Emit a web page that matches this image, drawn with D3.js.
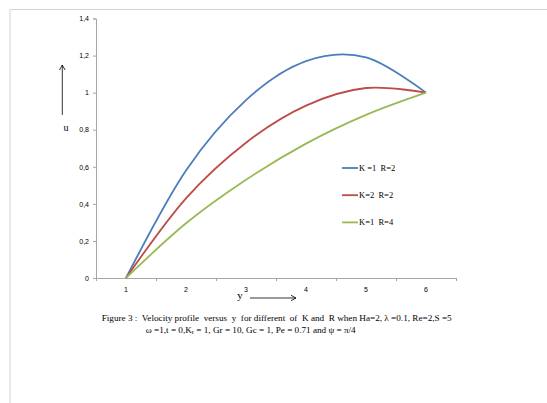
<!DOCTYPE html>
<html>
<head>
<meta charset="utf-8">
<script src="https://cdn.jsdelivr.net/npm/d3@7"></script>
<style>
  body { margin: 0; background: #fff; }
  text { fill: #000; white-space: pre; }
</style>
</head>
<body>
<div id="vis"></div>
<script>
const WIDTH = 547;
const HEIGHT = 403;

// datos
const yPos = [1, 2, 3, 4, 5, 6];
const uK1R2 = [0, 0.58, 0.96, 1.17, 1.19, 1.0];
const uK2R2 = [0, 0.43, 0.73, 0.93, 1.025, 1.0];
const uK1R4 = [0, 0.295, 0.53, 0.725, 0.88, 1.0];
const seriesNames = ["K =1  R=2", "K=2  R=2", "K=1  R=4"];
const colores = ["#4a7ebb", "#be4b48", "#98b954"];
const yTicks = [0, 0.2, 0.4, 0.6, 0.8, 1, 1.2, 1.4];

const margins = [96, 91, 18.5, 125]; // izquierda, derecha, arriba, abajo

const svg = d3.select("#vis").append("svg")
  .attr("width", WIDTH).attr("height", HEIGHT);

// marco de pagina
svg.append("path")
  .attr("d", `M10,${HEIGHT} L10,9.5 L${WIDTH},9.5`)
  .attr("fill", "none").attr("stroke", "#d4d4d4").attr("stroke-width", 1);

// escalas
const x = d3.scaleLinear().domain([0.5, 6.5]).range([margins[0], WIDTH - margins[1]]);
const y = d3.scaleLinear().domain([0, 1.4]).range([HEIGHT - margins[3], margins[2]]);

// eje y
const axisY = svg.append("g")
  .attr("transform", `translate(${margins[0]},0)`)
  .call(d3.axisLeft(y).tickValues(yTicks).tickSize(3).tickPadding(4)
    .tickFormat(d => String(+d.toFixed(1)).replace(".", ",")));
axisY.select(".domain").attr("stroke", "#a6a6a6");
axisY.selectAll(".tick line").attr("stroke", "#a6a6a6");
axisY.selectAll("text").attr("font-family", "Liberation Sans, Arial, sans-serif")
  .attr("font-size", "7px").attr("fill", "#222");

// eje x: marcas entre categorias, etiquetas centradas
const axisX = svg.append("g")
  .attr("transform", `translate(0,${y(0)})`)
  .call(d3.axisBottom(x).tickValues(d3.range(0.5, 7, 1)).tickSize(3).tickFormat(""));
axisX.select(".domain").attr("stroke", "#a6a6a6");
axisX.selectAll(".tick line").attr("stroke", "#a6a6a6");
svg.append("g").selectAll("text")
  .data(yPos)
  .join("text")
  .attr("x", d => x(d))
  .attr("y", y(0) + 14)
  .attr("text-anchor", "middle")
  .attr("font-family", "Liberation Sans, Arial, sans-serif")
  .attr("font-size", "7px")
  .attr("fill", "#222")
  .text(d => d);

// curvas (suavizadas como en Excel)
const todas = [uK1R2, uK2R2, uK1R4];
const linea = d3.line()
  .x((d, i) => x(yPos[i]))
  .y(d => y(d))
  .curve(d3.curveCardinal.tension(0));

svg.append("g").selectAll("path")
  .data(todas)
  .join("path")
  .attr("d", d => linea(d))
  .attr("fill", "none")
  .attr("stroke", (d, i) => colores[i])
  .attr("stroke-width", 1.8);

// leyenda
const leyenda = svg.append("g");
seriesNames.forEach((nombre, i) => {
  const ly = 168 + i * 27.2;
  leyenda.append("line")
    .attr("x1", 342).attr("x2", 358).attr("y1", ly).attr("y2", ly)
    .attr("stroke", colores[i]).attr("stroke-width", 1.8);
  leyenda.append("text")
    .attr("x", 359).attr("y", ly + 3)
    .attr("font-family", "Liberation Serif, Times New Roman, serif")
    .attr("font-size", "8.5px")
    .text(nombre);
});

// flechas de los ejes
const flecha = svg.append("g").attr("stroke", "#000").attr("stroke-width", 0.8).attr("fill", "none");
flecha.append("line").attr("x1", 62.3).attr("x2", 62.3).attr("y1", 115).attr("y2", 65);
flecha.append("path").attr("d", "M59.5,70 L62.3,65 L65.1,70");
flecha.append("line").attr("x1", 250).attr("x2", 296).attr("y1", 298).attr("y2", 298);
flecha.append("path").attr("d", "M291,295.3 L296,298 L291,300.7");

svg.append("text")
  .attr("x", 66).attr("y", 131)
  .attr("text-anchor", "middle")
  .attr("font-family", "Liberation Serif, Times New Roman, serif")
  .attr("font-size", "10px")
  .text("u");
svg.append("text")
  .attr("x", 240).attr("y", 299)
  .attr("text-anchor", "middle")
  .attr("font-family", "Liberation Serif, Times New Roman, serif")
  .attr("font-size", "11px")
  .text("y");

// leyenda de la figura
const cap = svg.append("g")
  .attr("font-family", "Liberation Serif, Times New Roman, serif")
  .attr("font-size", "8.4px");
cap.append("text")
  .attr("x", 101.7).attr("y", 320.5)
  .attr("textLength", 350).attr("lengthAdjust", "spacingAndGlyphs")
  .text("Figure 3 :  Velocity profile  versus  y  for different  of  K and  R when Ha=2, λ =0.1, Re=2,S =5");
const l2 = cap.append("text")
  .attr("x", 145.7).attr("y", 332.5)
  .attr("textLength", 210).attr("lengthAdjust", "spacingAndGlyphs");
l2.append("tspan").text("ω =1,t = 0,K");
l2.append("tspan").attr("dy", 1.5).attr("font-size", "6px").text("r");
l2.append("tspan").attr("dy", -1.5).text(" = 1, Gr = 10, Gc = 1, Pe = 0.71 and ψ = π/4");
</script>
</body>
</html>
